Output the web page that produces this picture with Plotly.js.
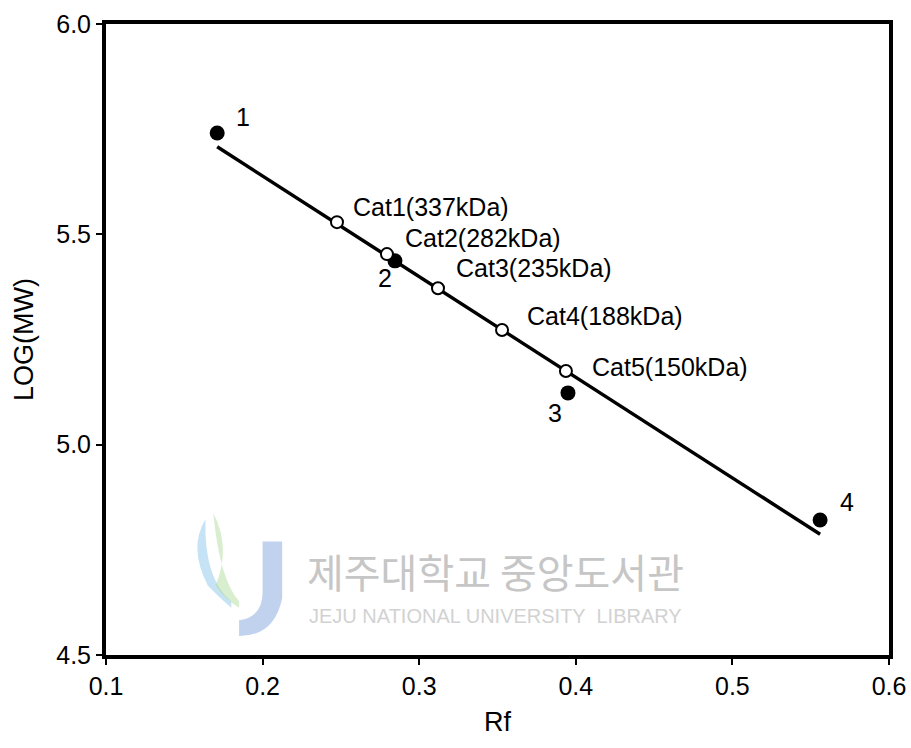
<!DOCTYPE html>
<html>
<head>
<meta charset="utf-8">
<script src="https://cdn.plot.ly/plotly-3.0.1.min.js"></script>
<style>html,body{margin:0;padding:0;background:#fff;}#chart{width:911px;height:748px;}</style>
</head>
<body>
<div id="chart"></div>
<script>
// Samples (filled)
var sampleLabels = ["1", "2", "3", "4"];
var sampleRf = [0.171, 0.2845, 0.395, 0.556];
var sampleLogMW = [5.741, 5.437, 5.123, 4.821];

// Standards (open)
var stdLabels = ["Cat1(337kDa)", "Cat2(282kDa)", "Cat3(235kDa)", "Cat4(188kDa)", "Cat5(150kDa)"];
var stdRf = [0.2475, 0.2794, 0.312, 0.3529, 0.3937];
var stdLogMW = [5.529, 5.453, 5.372, 5.2725, 5.175];

// Fit line endpoints
var fitRf = [0.171, 0.556];
var fitLogMW = [5.708, 4.787];

var xTicks = [0.1, 0.2, 0.3, 0.4, 0.5, 0.6];
var yTicks = [4.5, 5.0, 5.5, 6.0];

var sampleOffsets = [[26, -16], [-10, 17], [-13, 20], [27, -18]];
var stdOffsets = [[94, -15], [96, -16], [96, -20], [103, -14], [104, -4]];

var fam = "Liberation Sans, Arial, sans-serif";
var fnt = {family: fam, size: 25, color: "#000"};

var traces = [
  {x: fitRf, y: fitLogMW, mode: "lines", line: {color: "#000", width: 3.5}, hoverinfo: "skip"},
  {x: sampleRf, y: sampleLogMW, mode: "markers", marker: {color: "#000", size: 15, line: {width: 0}}},
  {x: stdRf, y: stdLogMW, mode: "markers", marker: {color: "#fff", size: 12, line: {color: "#000", width: 2}}}
];

var annotations = [];
sampleLabels.forEach(function (t, i) {
  annotations.push({x: sampleRf[i], y: sampleLogMW[i], xref: "x", yref: "y", text: t, showarrow: true,
    arrowcolor: "rgba(0,0,0,0)", ax: sampleOffsets[i][0], ay: sampleOffsets[i][1], font: fnt});
});
stdLabels.forEach(function (t, i) {
  annotations.push({x: stdRf[i], y: stdLogMW[i], xref: "x", yref: "y", text: t, showarrow: true,
    arrowcolor: "rgba(0,0,0,0)", ax: stdOffsets[i][0], ay: stdOffsets[i][1], font: fnt});
});
// watermark
annotations.push({xref: "paper", yref: "paper", x: 0.497, y: 0.133, xanchor: "center", yanchor: "middle",
  text: "제주대학교 중앙도서관", showarrow: false,
  font: {family: "Noto Sans CJK KR, sans-serif", size: 40, color: "#c6c6c6"}});
annotations.push({xref: "paper", yref: "paper", x: 0.497, y: 0.062, xanchor: "center", yanchor: "middle",
  text: "JEJU NATIONAL UNIVERSITY  LIBRARY", showarrow: false,
  font: {family: fam, size: 20, color: "#d2d2d2"}});

var layout = {
  width: 911, height: 748,
  margin: {l: 106, r: 22, t: 24, b: 93},
  paper_bgcolor: "#fff", plot_bgcolor: "#fff",
  showlegend: false,
  font: fnt,
  xaxis: {
    range: [0.1, 0.6], tickvals: xTicks, ticktext: xTicks.map(function (v) { return v.toFixed(1); }),
    showgrid: false, zeroline: false, showline: true, mirror: true, linecolor: "#000", linewidth: 4,
    ticks: "outside", ticklen: 6, tickwidth: 2, tickcolor: "#000",
    tickfont: fnt, title: {text: "Rf", font: {family: fam, size: 27, color: "#000"}, standoff: 14}
  },
  yaxis: {
    range: [4.5, 6.0], tickvals: yTicks, ticktext: yTicks.map(function (v) { return v.toFixed(1); }),
    showgrid: false, zeroline: false, showline: true, mirror: true, linecolor: "#000", linewidth: 4,
    ticks: "outside", ticklen: 6, tickwidth: 2, tickcolor: "#000",
    tickfont: fnt, title: {text: "LOG(MW)", font: {family: fam, size: 27, color: "#000"}, standoff: 16}
  },
  shapes: [
    {type: "path", xref: "paper", yref: "paper", path: "M 0.127 0.215 Q 0.105 0.17 0.13 0.11 Q 0.145 0.09 0.16 0.075 L 0.16 0.085 Q 0.125 0.12 0.127 0.215 Z",
      fillcolor: "rgba(140,200,235,0.5)", line: {width: 0}, layer: "below"},
    {type: "path", xref: "paper", yref: "paper", path: "M 0.137 0.225 Q 0.16 0.17 0.14 0.11 Q 0.15 0.09 0.17 0.075 L 0.17 0.085 Q 0.145 0.12 0.137 0.225 Z",
      fillcolor: "rgba(180,220,160,0.5)", line: {width: 0}, layer: "below"},
    {type: "path", xref: "paper", yref: "paper", path: "M 0.2 0.18 L 0.225 0.18 L 0.225 0.09 Q 0.215 0.03 0.17 0.03 L 0.17 0.055 Q 0.2 0.06 0.2 0.1 Z",
      fillcolor: "rgba(150,180,225,0.6)", line: {width: 0}, layer: "below"}
  ],
  annotations: annotations
};

Plotly.newPlot("chart", traces, layout, {staticPlot: true, displayModeBar: false});
</script>
</body>
</html>
